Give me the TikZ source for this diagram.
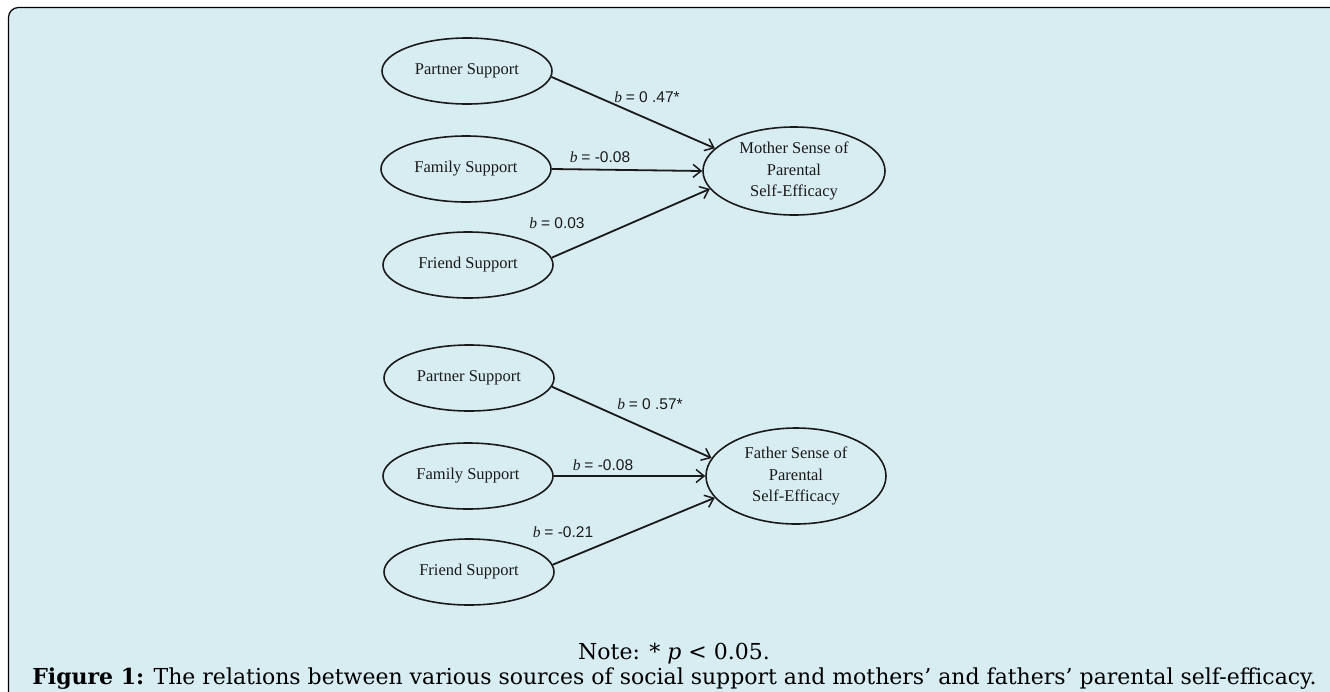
\documentclass[tikz,border=0pt]{standalone}
\usepackage{fontspec}
\setmainfont{Liberation Serif}
\newfontfamily\capfont{DejaVu Serif}
\newfontfamily\labsans{Liberation Sans}
\usetikzlibrary{shapes.geometric,arrows.meta}
\definecolor{bg}{HTML}{D8EDF2}
\definecolor{ink}{HTML}{1A1A1A}
\begin{document}
\begin{tikzpicture}[x=1pt,y=-1pt,
  ell/.style={ellipse, draw=ink, line width=1.6pt, inner sep=0pt, minimum width=170pt, minimum height=66pt,
    font=\fontsize{16.5pt}{21.5pt}\selectfont, align=center, text=ink},
  arr/.style={draw=ink, line width=1.8pt, -{Straight Barb[length=8pt,width=13pt,line width=1.5pt]}},
  lab/.style={font=\fontsize{15.5pt}{18pt}\selectfont, inner sep=0pt, text=ink},
  captext/.style={font=\capfont\fontsize{22pt}{26pt}\selectfont, inner sep=0pt, text=black}]
\useasboundingbox (0,0) rectangle (1330,691);
\fill[white] (0,0) rectangle (1330,691);
\begin{scope}
  \clip (0,0) rectangle (1330,691);
  \draw[fill=bg, draw=black, line width=1.2pt, rounded corners=10pt] (8.5,7.5) rectangle (1345,705);
\end{scope}

% Mother model
\node[ell] (mp)  at (467,71)  {Partner Support};
\node[ell] (mfa) at (466,169) {Family Support};
\node[ell] (mfr) at (468,265) {Friend Support};
\node[ell, minimum width=182pt, minimum height=88pt] (mo) at (794,171) {Mother Sense of\\Parental\\Self-Efficacy};
\draw[arr] (mp.356) -- (mo.164);
\draw[arr] (mfa.east) -- (mo.west);
\draw[arr] (mfr.5) -- (mo.192.5);
\node[lab] (ml1) at (647,97)  {\textit{b} {\labsans = 0 .47*}};
\node[lab] (ml2) at (600,157) {\textit{b} {\labsans = -0.08}};
\node[lab] (ml3) at (557,223) {\textit{b} {\labsans = 0.03}};

% Father model
\node[ell] (fp)  at (469,378) {Partner Support};
\node[ell] (ffa) at (468,476) {Family Support};
\node[ell] (ffr) at (469,572) {Friend Support};
\node[ell, minimum width=180pt, minimum height=96pt] (fa) at (796,476) {Father Sense of\\Parental\\Self-Efficacy};
\draw[arr] (fp.354) -- (fa.168);
\draw[arr] (ffa.east) -- (fa.west);
\draw[arr] (ffr.5) -- (fa.195);
\node[lab] (fl1) at (650,404) {\textit{b} {\labsans = 0 .57*}};
\node[lab] (fl2) at (603,465) {\textit{b} {\labsans = -0.08}};
\node[lab] (fl3) at (563,532) {\textit{b} {\labsans = -0.21}};

% Caption
\node[captext] (note) at (674,654) {Note: * \textit{p} < 0.05.};
\node[captext] (caption) at (674.5,679) {\textbf{Figure 1:} The relations between various sources of social support and mothers’ and fathers’ parental self-efficacy.};
\end{tikzpicture}
\end{document}
